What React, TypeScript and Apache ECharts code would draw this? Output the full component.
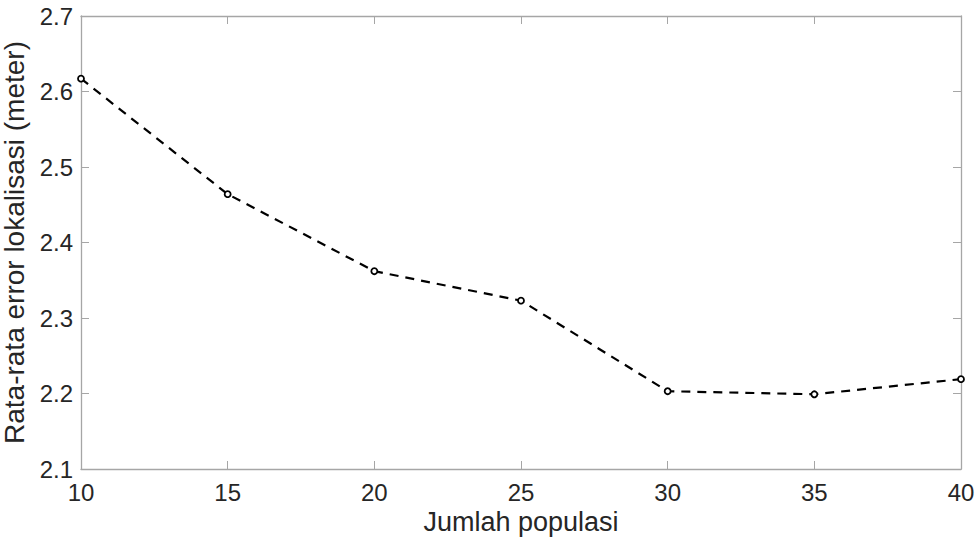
import React, { useEffect, useRef } from "react";
import * as echarts from "echarts";

const populasi = [10, 15, 20, 25, 30, 35, 40];
const errorRata = [2.617, 2.464, 2.362, 2.323, 2.203, 2.199, 2.219];
const xTitle = "Jumlah populasi";
const yTitle = "Rata-rata error lokalisasi (meter)";

export default function App() {
  const ref = useRef<HTMLDivElement>(null);
  useEffect(() => {
    document.body.style.margin = "0";
    const chart = echarts.init(ref.current!, null, { renderer: "svg" });
    const font = "'Liberation Sans', Arial, sans-serif";
    const axisColor = "#a6a6a6";
    const textColor = "#262626";
    const data = populasi.map((x, i) => [x, errorRata[i]]);
    chart.setOption({
      animation: false,
      backgroundColor: "#ffffff",
      grid: {
        left: 81,
        right: 18,
        top: 16,
        bottom: 76,
        containLabel: false,
        outerBoundsMode: "none",
      },
      xAxis: [
        {
          type: "value",
          min: 10,
          max: 40,
          interval: 5,
          name: xTitle,
          nameLocation: "middle",
          nameGap: 38,
          nameTextStyle: { fontFamily: font, fontSize: 27, color: textColor },
          axisLine: { show: true, onZero: false, lineStyle: { color: axisColor, width: 1.3 } },
          axisTick: { show: true, inside: true, length: 8, lineStyle: { color: axisColor } },
          axisLabel: { fontFamily: font, fontSize: 24, color: textColor, margin: 11 },
          splitLine: { show: false },
        },
        {
          type: "value",
          position: "top",
          min: 10,
          max: 40,
          interval: 5,
          axisLine: { show: true, onZero: false, lineStyle: { color: axisColor, width: 1.3 } },
          axisTick: { show: true, inside: true, length: 8, lineStyle: { color: axisColor } },
          axisLabel: { show: false },
          splitLine: { show: false },
        },
      ],
      yAxis: [
        {
          type: "value",
          min: 2.1,
          max: 2.7,
          interval: 0.1,
          name: yTitle,
          nameLocation: "middle",
          nameGap: 41,
          nameTextStyle: { fontFamily: font, fontSize: 28, color: textColor },
          axisLine: { show: true, onZero: false, lineStyle: { color: axisColor, width: 1.3 } },
          axisTick: { show: true, inside: true, length: 8, lineStyle: { color: axisColor } },
          axisLabel: {
            fontFamily: font,
            fontSize: 24,
            color: textColor,
            margin: 8,
            formatter: (v: number) => v.toFixed(1),
          },
          splitLine: { show: false },
        },
        {
          type: "value",
          position: "right",
          min: 2.1,
          max: 2.7,
          interval: 0.1,
          axisLine: { show: true, onZero: false, lineStyle: { color: axisColor, width: 1.3 } },
          axisTick: { show: true, inside: true, length: 8, lineStyle: { color: axisColor } },
          axisLabel: { show: false },
          splitLine: { show: false },
        },
      ],
      series: [
        {
          type: "line",
          data,
          xAxisIndex: 0,
          yAxisIndex: 0,
          symbol: "circle",
          symbolSize: 6,
          itemStyle: { color: "#ffffff", borderColor: "#000000", borderWidth: 1.8 },
          lineStyle: { color: "#000000", width: 2.2, type: [9, 7] },
          clip: false,
        },
      ],
    });
    return () => chart.dispose();
  }, []);
  return <div ref={ref} style={{ width: 979, height: 545 }} />;
}
